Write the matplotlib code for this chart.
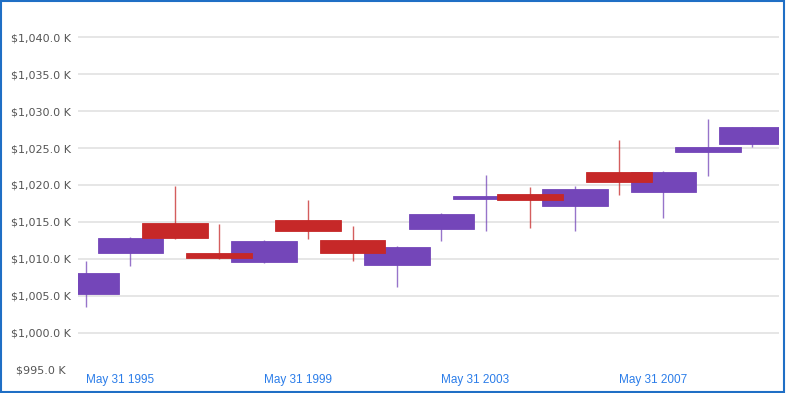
import matplotlib.pyplot as plt
import matplotlib.transforms as mtransforms
from matplotlib.patches import Rectangle
import numpy as np

# Inputs
years = [1995, 1996, 1997, 1998, 1999, 2000, 2001, 2002,
         2003, 2004, 2005, 2006, 2007, 2008, 2009, 2010]
opens = [1005.2, 1010.8, 1014.8, 1010.8, 1009.5, 1015.2, 1012.5, 1009.1,
         1014.05, 1018.1, 1018.75, 1017.1, 1021.8, 1019.0, 1024.5, 1025.5]
closes = [1008.1, 1012.8, 1012.8, 1010.1, 1012.4, 1013.8, 1010.8, 1011.6,
          1016.1, 1018.5, 1017.9, 1019.4, 1020.4, 1021.8, 1025.1, 1027.85]
highs = [1009.7, 1012.9, 1019.8, 1014.7, 1012.5, 1017.9, 1014.4, 1011.7,
         1016.2, 1021.3, 1019.7, 1019.8, 1026.05, 1021.9, 1028.9, 1027.9]
lows = [1003.4, 1009.0, 1012.7, 1010.0, 1009.4, 1012.7, 1009.7, 1006.1,
        1012.4, 1013.8, 1014.1, 1013.8, 1018.6, 1015.5, 1021.15, 1025.1]

yTicks = [995, 1000, 1005, 1010, 1015, 1020, 1025, 1030, 1035, 1040]
xTicks = [1995, 1999, 2003, 2007]
xTickLabels = ["May 31 1995", "May 31 1999", "May 31 2003", "May 31 2007"]

upColor = '#7446b9'
downColor = '#c62828'
bodyWidth = 1.48

years = np.array(years)
opens = np.array(opens)
closes = np.array(closes)
highs = np.array(highs)
lows = np.array(lows)
up = closes >= opens
down = ~up

fig = plt.figure(figsize=(7.86, 3.93), dpi=100)
ax = fig.add_axes([78/786, 1 - 369.4/393, (779 - 78)/786, (369.4 - 10)/393])

# gridlines (no line at the bottom value)
for yv in yTicks[1:]:
    ax.axhline(yv, color='#e6e6e6', lw=1.4, zorder=0)

# up candles first, then down candles on top
for mask, col, z in [(up, upColor, 2), (down, downColor, 4)]:
    bottoms = np.minimum(opens[mask], closes[mask])
    heights = np.abs(closes[mask] - opens[mask])
    ax.bar(years[mask], heights, bottom=bottoms, width=bodyWidth,
           color=col, edgecolor=col, linewidth=0.6, zorder=z)
    ax.vlines(years[mask], lows[mask], highs[mask], color=col,
              lw=1.0, alpha=0.75, zorder=z + 1)

ax.set_xlim(1994.82, 2010.6)
ax.set_ylim(995, 1043.7)

ax.set_yticks(yTicks)
ax.set_yticklabels(["${:,.1f} K".format(v) for v in yTicks],
                   fontsize=8, color='#555555')
ax.set_xticks(xTicks)
ax.set_xticklabels(xTickLabels, fontsize=8.5, color='#2b7de9',
                   family='Liberation Sans', ha='left')
ax.tick_params(axis='both', length=0)
ax.tick_params(axis='y', pad=5)
ax.tick_params(axis='x', pad=3)

# the bottom label sits a bit further left
lbl = ax.get_yticklabels()[0]
lbl.set_transform(lbl.get_transform() +
                  mtransforms.ScaledTranslation(-5/100, 0, fig.dpi_scale_trans))

for s in ax.spines.values():
    s.set_visible(False)

# blue frame round the figure
fig.patches.append(Rectangle((0.001, 0.002), 0.997, 0.996, transform=fig.transFigure,
                             fill=False, edgecolor='#1f6fc5', lw=1.5))

fig.savefig('out.png', dpi=100)
